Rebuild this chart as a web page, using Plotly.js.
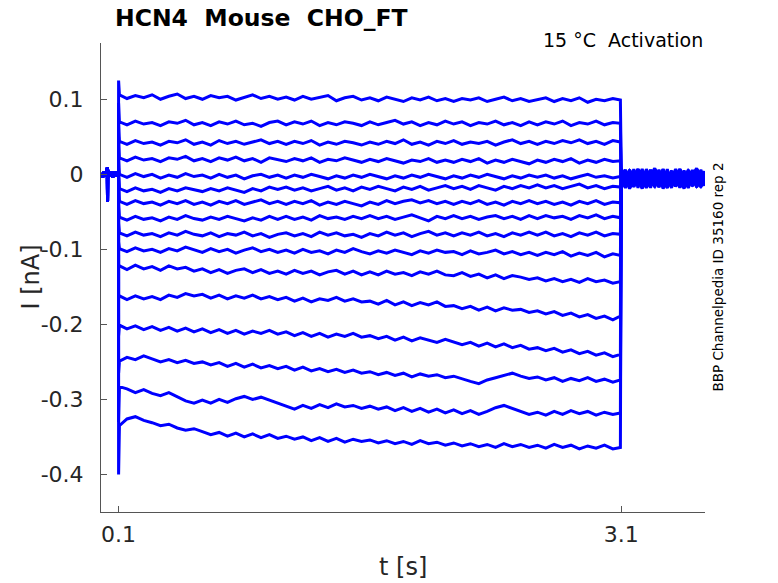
<!DOCTYPE html>
<html>
<head>
<meta charset="utf-8">
<script src="https://cdn.plot.ly/plotly-3.0.1.min.js"></script>
<style>
  html, body { margin: 0; padding: 0; background: #fff; }
  #plot { width: 778px; height: 583px; }
</style>
</head>
<body>
<div id="plot"></div>
<script>
// holding segment before the step (shared by all sweeps)
var tPre = [0, 0.005, 0.01, 0.015, 0.02, 0.025, 0.03, 0.033, 0.034, 0.035, 0.036, 0.04,
            0.045, 0.05, 0.055, 0.06, 0.065, 0.07, 0.075, 0.08, 0.085, 0.09, 0.095, 0.0995];
var iPre = [0.002, -0.004, 0.003, -0.003, 0.004, -0.002, 0.003, 0.009, -0.036, 0.006, -0.004, 0.003,
            -0.003, 0.004, -0.002, 0.003, -0.004, 0.002, -0.003, 0.004, -0.002, 0.003, -0.003, 0.001];

// capacitive peak right at the step onset, one per sweep
var peaks = [0.125, 0.095, 0.07, 0.05, 0.025, 0.005, -0.015, -0.04, -0.065, -0.09,
             -0.12, -0.165, -0.215, -0.265, -0.33, -0.40];

// test pulse samples
var tStep = [0.105, 0.15, 0.20, 0.25, 0.30, 0.35, 0.40, 0.45, 0.50, 0.55,
             0.60, 0.65, 0.70, 0.75, 0.80, 0.85, 0.90, 0.95, 1.00, 1.05,
             1.10, 1.15, 1.20, 1.25, 1.30, 1.35, 1.40, 1.45, 1.50, 1.55,
             1.60, 1.65, 1.70, 1.75, 1.80, 1.85, 1.90, 1.95, 2.00, 2.05,
             2.10, 2.15, 2.20, 2.25, 2.30, 2.35, 2.40, 2.45, 2.50, 2.55,
             2.60, 2.65, 2.70, 2.75, 2.80, 2.85, 2.90, 2.95, 3.00, 3.05,
             3.095];

var sweep01 = [0.106, 0.101, 0.105, 0.102, 0.106, 0.100, 0.104, 0.107, 0.101, 0.104,
               0.100, 0.105, 0.102, 0.104, 0.099, 0.103, 0.106, 0.101, 0.104, 0.100,
               0.103, 0.099, 0.104, 0.100, 0.102, 0.105, 0.098, 0.102, 0.104, 0.099,
               0.102, 0.098, 0.103, 0.100, 0.097, 0.102, 0.099, 0.103, 0.098, 0.101,
               0.097, 0.101, 0.099, 0.102, 0.097, 0.100, 0.103, 0.098, 0.101, 0.097,
               0.100, 0.102, 0.097, 0.101, 0.098, 0.102, 0.096, 0.100, 0.098, 0.101,
               0.099];
var sweep02 = [0.070, 0.066, 0.071, 0.067, 0.069, 0.065, 0.070, 0.068, 0.072, 0.066,
               0.069, 0.065, 0.070, 0.067, 0.071, 0.066, 0.068, 0.064, 0.069, 0.071,
               0.066, 0.070, 0.067, 0.071, 0.065, 0.069, 0.066, 0.070, 0.068, 0.065,
               0.070, 0.066, 0.069, 0.072, 0.067, 0.070, 0.065, 0.069, 0.066, 0.071,
               0.067, 0.070, 0.065, 0.069, 0.067, 0.071, 0.066, 0.069, 0.065, 0.070,
               0.066, 0.070, 0.067, 0.071, 0.065, 0.069, 0.067, 0.071, 0.066, 0.069,
               0.068];
var sweep03 = [0.044, 0.040, 0.045, 0.041, 0.043, 0.039, 0.044, 0.042, 0.046, 0.040,
               0.043, 0.039, 0.045, 0.041, 0.044, 0.040, 0.043, 0.046, 0.041, 0.044,
               0.040, 0.044, 0.041, 0.045, 0.039, 0.043, 0.040, 0.044, 0.042, 0.039,
               0.043, 0.040, 0.044, 0.041, 0.046, 0.040, 0.043, 0.039, 0.044, 0.041,
               0.045, 0.040, 0.043, 0.041, 0.044, 0.039, 0.043, 0.046, 0.041, 0.044,
               0.040, 0.044, 0.041, 0.045, 0.042, 0.046, 0.041, 0.044, 0.040, 0.045,
               0.043];
var sweep04 = [0.022, 0.018, 0.023, 0.019, 0.021, 0.017, 0.022, 0.020, 0.024, 0.018,
               0.021, 0.017, 0.022, 0.019, 0.023, 0.018, 0.021, 0.016, 0.022, 0.019,
               0.017, 0.021, 0.018, 0.022, 0.016, 0.020, 0.018, 0.022, 0.019, 0.016,
               0.020, 0.017, 0.021, 0.018, 0.015, 0.019, 0.017, 0.021, 0.016, 0.019,
               0.016, 0.020, 0.017, 0.021, 0.015, 0.019, 0.016, 0.020, 0.017, 0.014,
               0.019, 0.016, 0.020, 0.017, 0.021, 0.015, 0.019, 0.016, 0.020, 0.017,
               0.018];
var sweep05 = [0.000, -0.004, 0.001, -0.003, 0.000, -0.005, -0.001, -0.004, 0.001, -0.003,
               -0.001, -0.005, 0.000, -0.004, -0.001, -0.006, -0.002, 0.000, -0.004, -0.001,
               -0.005, -0.001, -0.004, 0.000, -0.003, -0.006, -0.002, -0.005, -0.001, -0.004,
               0.000, -0.003, -0.006, -0.002, -0.005, -0.001, -0.004, 0.000, -0.003, -0.006,
               -0.002, -0.005, -0.001, -0.004, 0.000, -0.003, -0.006, -0.002, -0.005, -0.001,
               -0.004, -0.001, -0.005, -0.002, -0.006, -0.003, 0.000, -0.004, -0.002, -0.005,
               -0.003];
var sweep06 = [-0.019, -0.023, -0.018, -0.022, -0.020, -0.024, -0.019, -0.022, -0.018, -0.021,
               -0.023, -0.019, -0.022, -0.018, -0.021, -0.024, -0.019, -0.022, -0.017, -0.020,
               -0.017, -0.021, -0.018, -0.022, -0.019, -0.016, -0.021, -0.018, -0.022, -0.017,
               -0.020, -0.016, -0.019, -0.022, -0.017, -0.020, -0.016, -0.021, -0.018, -0.015,
               -0.019, -0.016, -0.020, -0.015, -0.018, -0.021, -0.016, -0.019, -0.015, -0.018,
               -0.014, -0.018, -0.015, -0.019, -0.016, -0.013, -0.018, -0.015, -0.019, -0.016,
               -0.017];
var sweep07 = [-0.036, -0.040, -0.035, -0.039, -0.037, -0.041, -0.036, -0.039, -0.035, -0.040,
               -0.037, -0.041, -0.036, -0.039, -0.035, -0.040, -0.037, -0.034, -0.039, -0.036,
               -0.040, -0.036, -0.039, -0.035, -0.041, -0.037, -0.040, -0.036, -0.039, -0.042,
               -0.037, -0.040, -0.035, -0.039, -0.036, -0.034, -0.038, -0.035, -0.039, -0.036,
               -0.040, -0.036, -0.039, -0.035, -0.040, -0.037, -0.041, -0.036, -0.039, -0.035,
               -0.039, -0.036, -0.040, -0.037, -0.041, -0.036, -0.039, -0.035, -0.040, -0.037,
               -0.038];
var sweep08 = [-0.057, -0.061, -0.056, -0.060, -0.058, -0.062, -0.057, -0.060, -0.055, -0.059,
               -0.061, -0.057, -0.060, -0.056, -0.059, -0.062, -0.058, -0.061, -0.056, -0.060,
               -0.056, -0.060, -0.057, -0.061, -0.055, -0.059, -0.057, -0.060, -0.056, -0.059,
               -0.055, -0.059, -0.056, -0.060, -0.057, -0.054, -0.058, -0.062, -0.056, -0.059,
               -0.055, -0.059, -0.056, -0.060, -0.057, -0.055, -0.059, -0.056, -0.060, -0.055,
               -0.059, -0.055, -0.058, -0.056, -0.060, -0.055, -0.058, -0.054, -0.059, -0.056,
               -0.058];
var sweep09 = [-0.078, -0.082, -0.077, -0.081, -0.079, -0.083, -0.078, -0.081, -0.076, -0.080,
               -0.082, -0.078, -0.083, -0.079, -0.081, -0.077, -0.082, -0.079, -0.084, -0.080,
               -0.078, -0.082, -0.079, -0.083, -0.077, -0.081, -0.078, -0.082, -0.080, -0.084,
               -0.079, -0.082, -0.077, -0.081, -0.078, -0.083, -0.079, -0.076, -0.081, -0.078,
               -0.082, -0.078, -0.081, -0.077, -0.082, -0.079, -0.083, -0.078, -0.081, -0.077,
               -0.081, -0.077, -0.082, -0.079, -0.083, -0.078, -0.081, -0.077, -0.082, -0.079,
               -0.080];
var sweep10 = [-0.099, -0.103, -0.098, -0.102, -0.100, -0.104, -0.099, -0.102, -0.097, -0.101,
               -0.104, -0.099, -0.103, -0.100, -0.105, -0.101, -0.098, -0.103, -0.100, -0.104,
               -0.101, -0.105, -0.100, -0.104, -0.102, -0.106, -0.101, -0.104, -0.099, -0.103,
               -0.106, -0.102, -0.105, -0.101, -0.104, -0.107, -0.102, -0.105, -0.101, -0.104,
               -0.103, -0.107, -0.102, -0.106, -0.104, -0.101, -0.106, -0.103, -0.107, -0.104,
               -0.108, -0.104, -0.107, -0.103, -0.109, -0.105, -0.108, -0.104, -0.110, -0.106,
               -0.108];
var sweep11 = [-0.122, -0.127, -0.121, -0.126, -0.123, -0.128, -0.122, -0.126, -0.124, -0.129,
               -0.126, -0.131, -0.127, -0.132, -0.128, -0.126, -0.131, -0.127, -0.132, -0.129,
               -0.133, -0.128, -0.132, -0.129, -0.134, -0.130, -0.128, -0.133, -0.129, -0.134,
               -0.130, -0.134, -0.129, -0.133, -0.131, -0.135, -0.130, -0.133, -0.129, -0.134,
               -0.135, -0.131, -0.136, -0.133, -0.138, -0.134, -0.139, -0.135, -0.137, -0.140,
               -0.138, -0.142, -0.139, -0.143, -0.140, -0.144, -0.139, -0.143, -0.141, -0.145,
               -0.143];
var sweep12 = [-0.162, -0.167, -0.162, -0.166, -0.163, -0.167, -0.161, -0.164, -0.159, -0.162,
               -0.160, -0.165, -0.161, -0.166, -0.162, -0.165, -0.161, -0.166, -0.163, -0.167,
               -0.164, -0.169, -0.165, -0.170, -0.166, -0.168, -0.164, -0.169, -0.166, -0.170,
               -0.169, -0.173, -0.168, -0.174, -0.170, -0.175, -0.171, -0.174, -0.170, -0.176,
               -0.175, -0.179, -0.176, -0.181, -0.177, -0.182, -0.178, -0.181, -0.180, -0.184,
               -0.182, -0.186, -0.183, -0.188, -0.185, -0.190, -0.187, -0.192, -0.189, -0.194,
               -0.189];
var sweep13 = [-0.201, -0.206, -0.202, -0.207, -0.203, -0.208, -0.204, -0.209, -0.205, -0.210,
               -0.206, -0.211, -0.207, -0.212, -0.208, -0.213, -0.209, -0.212, -0.208, -0.213,
               -0.210, -0.215, -0.211, -0.216, -0.212, -0.217, -0.213, -0.216, -0.212, -0.217,
               -0.215, -0.219, -0.216, -0.221, -0.217, -0.222, -0.218, -0.221, -0.224, -0.220,
               -0.223, -0.227, -0.224, -0.229, -0.225, -0.230, -0.226, -0.231, -0.228, -0.233,
               -0.231, -0.235, -0.232, -0.237, -0.234, -0.239, -0.236, -0.241, -0.238, -0.243,
               -0.240];
var sweep14 = [-0.249, -0.244, -0.247, -0.242, -0.246, -0.250, -0.247, -0.251, -0.248, -0.252,
               -0.250, -0.254, -0.251, -0.256, -0.252, -0.257, -0.253, -0.258, -0.255, -0.259,
               -0.256, -0.261, -0.257, -0.262, -0.259, -0.263, -0.260, -0.264, -0.261, -0.265,
               -0.263, -0.267, -0.264, -0.268, -0.265, -0.270, -0.266, -0.269, -0.267, -0.271,
               -0.269, -0.273, -0.276, -0.279, -0.274, -0.271, -0.268, -0.265, -0.269, -0.272,
               -0.270, -0.274, -0.271, -0.276, -0.272, -0.275, -0.271, -0.276, -0.273, -0.277,
               -0.274];
var sweep15 = [-0.283, -0.286, -0.291, -0.287, -0.292, -0.295, -0.291, -0.296, -0.302, -0.305,
               -0.301, -0.305, -0.300, -0.304, -0.299, -0.296, -0.300, -0.297, -0.301, -0.305,
               -0.309, -0.313, -0.308, -0.312, -0.307, -0.311, -0.306, -0.310, -0.308, -0.312,
               -0.309, -0.313, -0.310, -0.315, -0.311, -0.316, -0.312, -0.317, -0.313, -0.318,
               -0.314, -0.319, -0.315, -0.320, -0.316, -0.311, -0.308, -0.312, -0.316, -0.320,
               -0.317, -0.321, -0.316, -0.320, -0.315, -0.319, -0.316, -0.321, -0.317, -0.320,
               -0.318];
var sweep16 = [-0.335, -0.326, -0.323, -0.328, -0.331, -0.335, -0.333, -0.338, -0.341, -0.339,
               -0.343, -0.347, -0.344, -0.349, -0.345, -0.350, -0.346, -0.351, -0.347, -0.352,
               -0.349, -0.353, -0.350, -0.355, -0.351, -0.356, -0.352, -0.357, -0.353, -0.356,
               -0.354, -0.358, -0.355, -0.359, -0.356, -0.360, -0.355, -0.359, -0.357, -0.361,
               -0.358, -0.362, -0.359, -0.363, -0.360, -0.364, -0.359, -0.363, -0.360, -0.364,
               -0.361, -0.365, -0.360, -0.364, -0.361, -0.366, -0.362, -0.365, -0.361, -0.366,
               -0.364];

// back at holding potential after the pulse
var tTail = [3.100, 3.125, 3.150, 3.175, 3.200, 3.225, 3.250, 3.275, 3.300, 3.325, 3.350,
             3.375, 3.400, 3.425, 3.450, 3.475, 3.500, 3.525, 3.550, 3.575, 3.600];

var tail01 = [0.006, -0.015, 0.004, -0.017, 0.007, -0.012, 0.003, -0.018, 0.005, -0.014, 0.006, -0.016, 0.002, -0.013, 0.007, -0.017, 0.004, -0.015, 0.006, -0.012, 0.003];
var tail02 = [-0.016, 0.005, -0.013, 0.007, -0.018, 0.003, -0.014, 0.006, -0.017, 0.004, -0.012, 0.007, -0.015, 0.005, -0.018, 0.002, -0.014, 0.006, -0.016, 0.004, -0.013];
var tail03 = [0.002, -0.010, 0.006, -0.008, 0.004, -0.011, 0.007, -0.006, 0.003, -0.009, 0.005, -0.012, 0.001, -0.007, 0.006, -0.010, 0.004, -0.008, 0.007, -0.011, 0.002];
var tail04 = [-0.008, -0.018, -0.004, -0.016, -0.006, -0.019, -0.003, -0.015, -0.007, -0.017, -0.005, -0.018, -0.002, -0.016, -0.008, -0.019, -0.004, -0.015, -0.006, -0.017, -0.005];
var tail05 = [0.008, -0.004, 0.005, -0.002, 0.007, -0.005, 0.004, -0.001, 0.008, -0.003, 0.006, -0.005, 0.003, -0.002, 0.007, -0.004, 0.005, -0.001, 0.008, -0.003, 0.004];
var tail06 = [-0.012, 0.001, -0.015, -0.002, -0.011, 0.002, -0.016, -0.003, -0.013, 0.000, -0.014, -0.001, -0.017, 0.001, -0.012, -0.002, -0.015, 0.000, -0.013, -0.003, -0.011];
var tail07 = [-0.003, 0.006, -0.009, 0.004, -0.006, 0.007, -0.010, 0.003, -0.005, 0.006, -0.008, 0.004, -0.004, 0.007, -0.009, 0.002, -0.006, 0.005, -0.010, 0.003, -0.004];
var tail08 = [-0.017, -0.006, -0.019, -0.008, -0.015, -0.005, -0.018, -0.009, -0.016, -0.004, -0.019, -0.007, -0.015, -0.006, -0.017, -0.008, -0.018, -0.005, -0.016, -0.009, -0.015];
var tail09 = [0.004, -0.013, 0.002, -0.016, 0.005, -0.011, 0.001, -0.014, 0.006, -0.017, 0.003, -0.012, 0.005, -0.015, 0.002, -0.013, 0.006, -0.016, 0.001, -0.014, 0.004];
var tail10 = [-0.010, 0.003, -0.007, 0.005, -0.012, 0.002, -0.008, 0.006, -0.011, 0.001, -0.009, 0.004, -0.013, 0.003, -0.007, 0.005, -0.010, 0.002, -0.012, 0.006, -0.008];
var tail11 = [-0.001, -0.014, 0.000, -0.012, -0.003, -0.016, 0.001, -0.011, -0.002, -0.015, 0.000, -0.013, -0.004, -0.016, 0.001, -0.012, -0.002, -0.014, -0.001, -0.015, -0.003];
var tail12 = [-0.014, -0.002, -0.016, 0.001, -0.013, -0.004, -0.017, 0.000, -0.012, -0.003, -0.015, 0.002, -0.014, -0.001, -0.016, -0.004, -0.013, 0.001, -0.017, -0.002, -0.014];
var tail13 = [0.005, -0.007, 0.003, -0.009, 0.006, -0.005, 0.002, -0.010, 0.004, -0.006, 0.007, -0.008, 0.003, -0.011, 0.005, -0.007, 0.002, -0.009, 0.006, -0.005, 0.003];
var tail14 = [-0.006, -0.017, -0.003, -0.014, -0.008, -0.018, -0.004, -0.016, -0.007, -0.013, -0.005, -0.018, -0.002, -0.015, -0.006, -0.017, -0.003, -0.014, -0.008, -0.016, -0.005];
var tail15 = [0.007, -0.010, 0.004, -0.013, 0.006, -0.009, 0.003, -0.012, 0.007, -0.011, 0.005, -0.014, 0.004, -0.010, 0.006, -0.013, 0.002, -0.011, 0.007, -0.009, 0.004];
var tail16 = [-0.015, -0.003, -0.018, -0.005, -0.014, -0.001, -0.017, -0.006, -0.013, -0.002, -0.016, -0.004, -0.018, -0.003, -0.015, -0.006, -0.014, -0.001, -0.017, -0.005, -0.015];

var yTicks = [-0.4, -0.3, -0.2, -0.1, 0, 0.1];
var yTickText = ['-0.4', '-0.3', '-0.2', '-0.1', '0', '0.1'];
var xTicks = [0.1, 3.1];
var xTickText = ['0.1', '3.1'];

var sweeps = [sweep01, sweep02, sweep03, sweep04, sweep05, sweep06, sweep07, sweep08,
              sweep09, sweep10, sweep11, sweep12, sweep13, sweep14, sweep15, sweep16];
var tails = [tail01, tail02, tail03, tail04, tail05, tail06, tail07, tail08,
             tail09, tail10, tail11, tail12, tail13, tail14, tail15, tail16];

var tAll = tPre.concat([0.1], tStep, tTail);
var data = [];
for (var k = 0; k < sweeps.length; k++) {
    if (sweeps[k].length != tStep.length) console.log('sweep ' + (k + 1) + ' has ' + sweeps[k].length);
    data.push({
        x: tAll,
        y: iPre.concat([peaks[k]], sweeps[k], tails[k]),
        type: 'scatter',
        mode: 'lines',
        line: {color: '#0000ff', width: 3},
        hoverinfo: 'skip',
        showlegend: false
    });
}

var font = 'DejaVu Sans, sans-serif';
var axisCol = '#555555';
var textCol = '#262626';

var layout = {
    width: 778,
    height: 583,
    margin: {l: 101, r: 73, t: 43, b: 71},
    paper_bgcolor: '#ffffff',
    plot_bgcolor: '#ffffff',
    showlegend: false,
    xaxis: {
        range: [-0.005, 3.6],
        tickvals: xTicks,
        ticktext: xTickText,
        ticks: 'inside',
        ticklen: 6,
        tickwidth: 1,
        tickcolor: axisCol,
        showline: true,
        linecolor: axisCol,
        linewidth: 1,
        showgrid: false,
        zeroline: false,
        ticklabelstandoff: 3,
        tickfont: {family: font, size: 22, color: textCol}
    },
    yaxis: {
        range: [-0.45, 0.175],
        tickvals: yTicks,
        ticktext: yTickText,
        ticks: 'inside',
        ticklen: 6,
        tickwidth: 1,
        tickcolor: axisCol,
        showline: true,
        linecolor: axisCol,
        linewidth: 1,
        showgrid: false,
        zeroline: false,
        ticklabelstandoff: 12,
        tickfont: {family: font, size: 22, color: textCol}
    },
    annotations: [
        {text: 'HCN4\u00a0\u00a0Mouse\u00a0\u00a0CHO_FT', xref: 'paper', yref: 'paper',
         x: 0.02, y: 1.053, xanchor: 'left', yanchor: 'middle', showarrow: false,
         font: {family: font, size: 23.5, color: '#000000', weight: 'bold'}},
        {text: '15 °C\u00a0\u00a0Activation', xref: 'paper', yref: 'paper',
         x: 1.0, y: 1.006, xanchor: 'right', yanchor: 'middle', showarrow: false,
         font: {family: font, size: 19, color: '#000000'}},
        {text: 'BBP Channelpedia ID 35160 rep 2', xref: 'paper', yref: 'paper',
         x: 1.0199, y: 0.5, xanchor: 'center', yanchor: 'middle', textangle: -90, showarrow: false,
         font: {family: font, size: 13.5, color: '#000000'}},
        {text: 'I [nA]', xref: 'paper', yref: 'paper',
         x: -0.1175, y: 0.5, xanchor: 'center', yanchor: 'middle', textangle: -90, showarrow: false,
         font: {family: font, size: 24, color: textCol}},
        {text: 't [s]', xref: 'paper', yref: 'paper',
         x: 0.5, y: -0.117, xanchor: 'center', yanchor: 'middle', showarrow: false,
         font: {family: font, size: 24, color: textCol}}
    ]
};

Plotly.newPlot('plot', data, layout, {staticPlot: true, displayModeBar: false});
</script>
</body>
</html>
